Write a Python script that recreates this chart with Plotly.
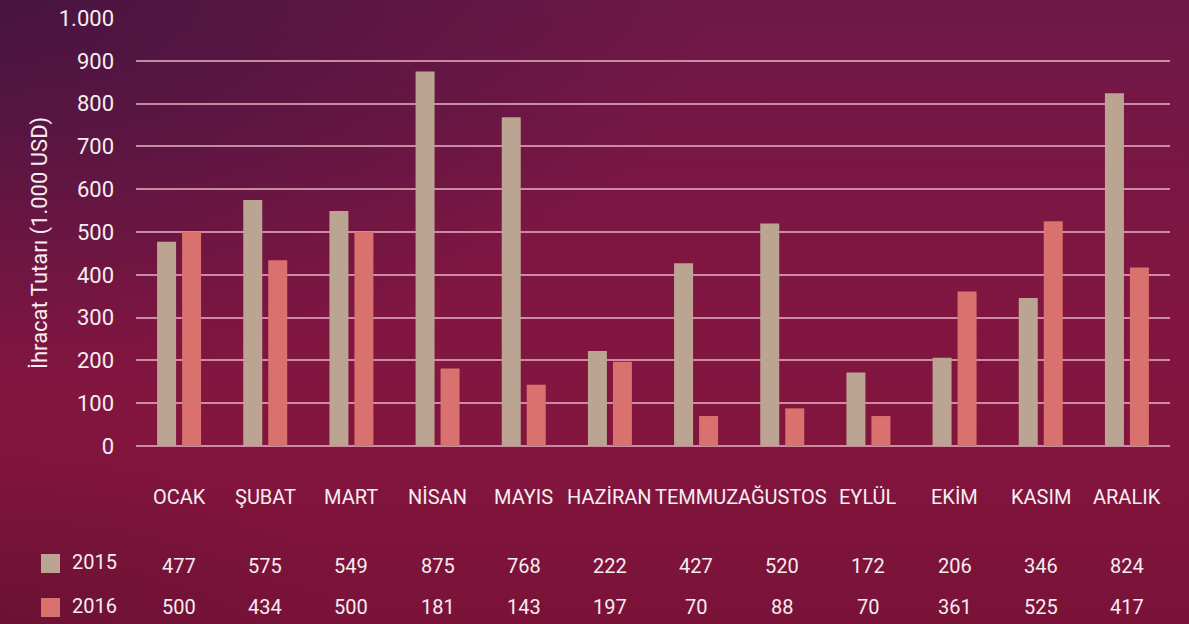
import base64
import plotly.graph_objects as go

months = ["OCAK", "ŞUBAT", "MART", "NİSAN", "MAYIS", "HAZİRAN", "TEMMUZ",
          "AĞUSTOS", "EYLÜL", "EKİM", "KASIM", "ARALIK"]
values_2015 = [477, 575, 549, 875, 768, 222, 427, 520, 172, 206, 346, 824]
values_2016 = [500, 434, 500, 181, 143, 197, 70, 88, 70, 361, 525, 417]
series_names = ["2015", "2016"]
y_ticks = [0, 100, 200, 300, 400, 500, 600, 700, 800, 900, 1000]

C2015 = "#BBA592"
C2016 = "#D9716F"
TXT = "#F6EDF0"
FONT = "Roboto"

W, H = 1189, 624
L, R, T, B = 136, 19, 18, 178
pw, ph = W - L - R, H - T - B


def py(px):
    return (H - B - px) / ph


def px_x(px):
    return (px - L) / pw


svg = f'''<svg xmlns="http://www.w3.org/2000/svg" width="{W}" height="{H}" viewBox="0 0 {W} {H}" preserveAspectRatio="none">
<defs>
<linearGradient id="v" x1="0" y1="0" x2="0" y2="1">
<stop offset="0" stop-color="#6E1848"/>
<stop offset="0.4" stop-color="#7F1642"/>
<stop offset="0.75" stop-color="#82153D"/>
<stop offset="1" stop-color="#7A1238"/>
</linearGradient>
<radialGradient id="tl" cx="0" cy="0" r="0.6" gradientUnits="objectBoundingBox">
<stop offset="0" stop-color="#461440" stop-opacity="0.95"/>
<stop offset="1" stop-color="#461440" stop-opacity="0"/>
</radialGradient>
<radialGradient id="bl" cx="0" cy="1" r="0.3" gradientUnits="objectBoundingBox">
<stop offset="0" stop-color="#5E1030" stop-opacity="0.5"/>
<stop offset="1" stop-color="#5E1030" stop-opacity="0"/>
</radialGradient>
</defs>
<rect width="{W}" height="{H}" fill="url(#v)"/>
<rect width="{W}" height="{H}" fill="url(#tl)"/>
<rect width="{W}" height="{H}" fill="url(#bl)"/>
</svg>'''
src = "data:image/svg+xml;base64," + base64.b64encode(svg.encode()).decode()

fig = go.Figure()
fig.add_trace(go.Bar(x=months, y=values_2015, name=series_names[0],
                     marker=dict(color=C2015, line=dict(width=0))))
fig.add_trace(go.Bar(x=months, y=values_2016, name=series_names[1],
                     marker=dict(color=C2016, line=dict(width=0))))

annotations = []
# category labels
for m in months:
    annotations.append(dict(x=m, xref="x", y=py(497), yref="paper", text=m,
                            showarrow=False, xanchor="center", yanchor="middle",
                            font=dict(family=FONT, size=20, color=TXT)))
# table rows
row_y = [py(566), py(607)]
for vals, yy in zip([values_2015, values_2016], row_y):
    for m, v in zip(months, vals):
        annotations.append(dict(x=m, xref="x", y=yy, yref="paper", text=str(v),
                                showarrow=False, xanchor="center", yanchor="middle",
                                font=dict(family=FONT, size=20, color=TXT)))
# legend labels
shapes = []
for name, col, yy, sq_top in zip(series_names, [C2015, C2016], row_y, [554, 598]):
    annotations.append(dict(x=px_x(70), xref="paper", y=py(sq_top + 8), yref="paper",
                            text=name, showarrow=False, xanchor="left", yanchor="middle",
                            font=dict(family=FONT, size=20, color=TXT)))
    shapes.append(dict(type="rect", xref="paper", yref="paper",
                       x0=px_x(41), x1=px_x(60), y0=py(sq_top + 19), y1=py(sq_top),
                       fillcolor=col, line=dict(width=0)))
# axis title
annotations.append(dict(x=px_x(40), xref="paper", y=py(243), yref="paper",
                        text="İhracat Tutarı (1.000 USD)", textangle=-90,
                        showarrow=False, xanchor="center", yanchor="middle",
                        font=dict(family=FONT, size=22, color=TXT)))

fig.update_layout(
    width=W, height=H,
    margin=dict(l=L, r=R, t=T, b=B, pad=0, autoexpand=False),
    paper_bgcolor="#7B1540",
    plot_bgcolor="rgba(0,0,0,0)",
    separators=",.",
    barmode="group",
    bargap=0.42,
    bargroupgap=0.24,
    showlegend=False,
    font=dict(family=FONT, color=TXT),
    annotations=annotations,
    shapes=shapes,
    images=[dict(source=src, xref="paper", yref="paper",
                 x=px_x(0), y=py(0), sizex=W / pw, sizey=H / ph,
                 xanchor="left", yanchor="top", sizing="stretch", layer="below")],
)
fig.update_xaxes(showticklabels=False, showgrid=False, zeroline=False,
                 showline=False, ticks="", automargin=False)
fig.update_yaxes(range=[0, 1000], tickvals=y_ticks, tickformat=",d", automargin=False,
                 showgrid=True, gridcolor="rgba(236,185,200,0.72)", gridwidth=1.5,
                 zeroline=True, zerolinecolor="rgba(236,185,200,0.72)", zerolinewidth=1.5,
                 showline=False, ticks="", ticklabelstandoff=21,
                 tickfont=dict(family=FONT, size=22, color=TXT))

fig.write_html("out.html", config={"displayModeBar": False},
               post_script="document.body.style.margin='0';document.body.style.overflow='hidden';")
